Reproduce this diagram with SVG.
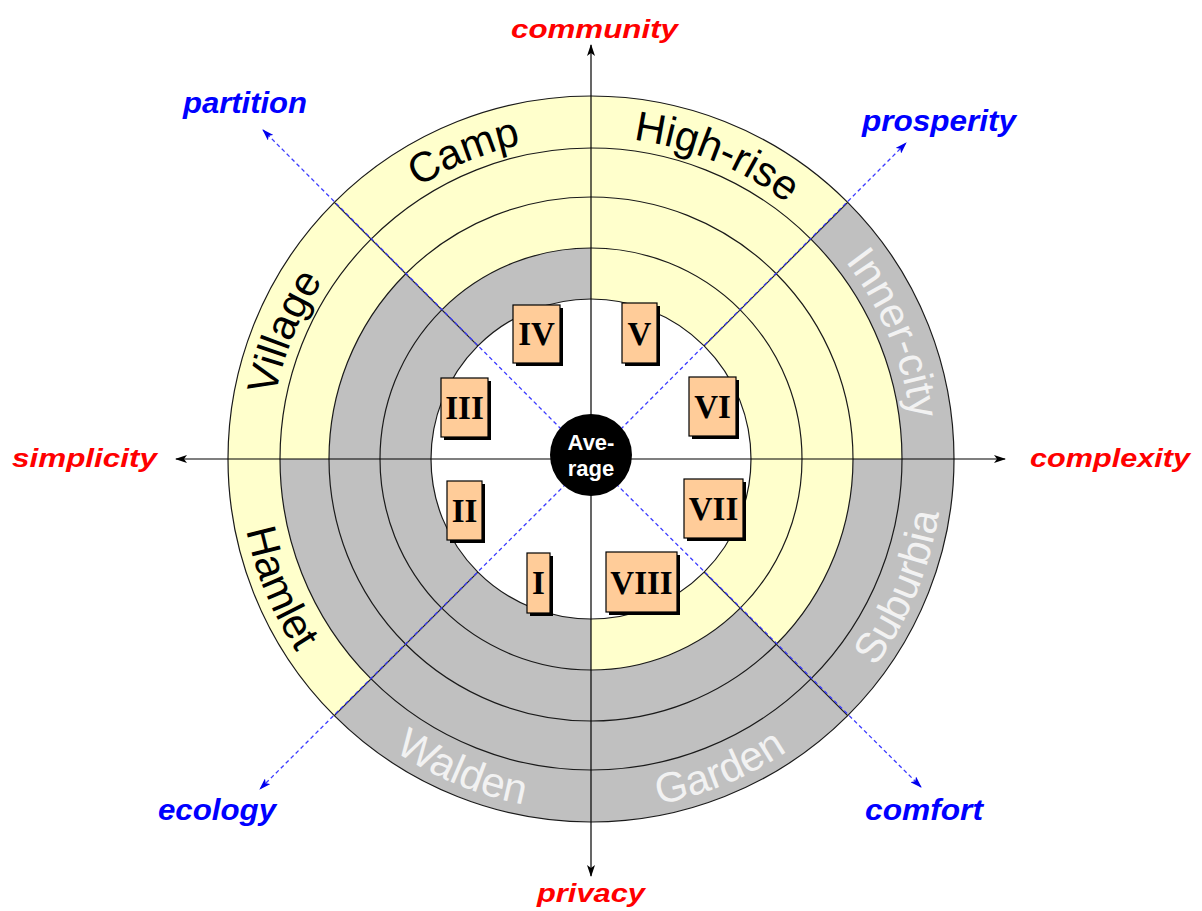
<svg xmlns="http://www.w3.org/2000/svg" width="1202" height="911" viewBox="0 0 1202 911">
  <style>
    .ring { fill: none; stroke: #1a1a1a; stroke-width: 1.2; }
    .yel { fill: #FFFFCC; stroke: none; }
    .seg { stroke: #1a1a1a; stroke-width: 1.2; }
    .axis { stroke: #000; stroke-width: 1.2; fill: none; }
    .dash { stroke: #3b3bff; stroke-width: 1.3; stroke-dasharray: 4 3; fill: none; }
    .band { font-family: "Liberation Sans", Arial, sans-serif; font-size: 42px; }
    .dark { fill: #000; }
    .light { fill: #f2f2f2; }
    .box { fill: #FFCC99; stroke: #000; stroke-width: 1.2; }
    .shadow { fill: #000; }
    .num { font-family: "Liberation Serif", "Times New Roman", serif; font-weight: bold; font-size: 33px; fill: #000; text-anchor: middle; }
    .red { font-family: "Liberation Sans", Arial, sans-serif; font-weight: bold; font-style: italic; font-size: 26px; fill: #FF0000; text-anchor: middle; }
    .blue { font-family: "Liberation Sans", Arial, sans-serif; font-weight: bold; font-style: italic; font-size: 29px; fill: #0000FF; text-anchor: middle; }
    .avg { font-family: "Liberation Sans", Arial, sans-serif; font-weight: bold; font-size: 22px; fill: #fff; text-anchor: middle; }
  </style>
  <defs>
    <marker id="arrowBlack" viewBox="0 0 12 8" refX="11" refY="4" markerWidth="12" markerHeight="8" markerUnits="userSpaceOnUse" orient="auto-start-reverse">
      <path d="M0,0 L12,4 L0,8 L3,4 Z" fill="#000"/>
    </marker>
    <marker id="arrowBlue" viewBox="0 0 12 8" refX="11" refY="4" markerWidth="12" markerHeight="8" markerUnits="userSpaceOnUse" orient="auto">
      <path d="M0,0 L12,4 L0,8 L3,4 Z" fill="#0000ee"/>
    </marker>
    <!-- baselines for the band names: clockwise arcs r=322, counter-clockwise arcs r=352 -->
    <path id="pCamp" d="M305.38,310.32 A322,322 0 0 1 687.83,151.90"/>
    <path id="pHigh" d="M494.17,151.90 A322,322 0 0 1 876.62,310.32"/>
    <path id="pVillage" d="M283.90,555.83 A322,322 0 0 1 442.32,173.38"/>
    <path id="pInner" d="M739.68,173.38 A322,322 0 0 1 898.10,555.83"/>
    <path id="pHamlet" d="M255.29,353.15 A352,352 0 0 0 428.46,771.23"/>
    <path id="pWalden" d="M278.77,621.54 A352,352 0 0 0 696.85,794.71"/>
    <path id="pGarden" d="M485.15,794.71 A352,352 0 0 0 903.23,621.54"/>
    <path id="pSuburbia" d="M753.54,771.23 A352,352 0 0 0 926.71,353.15"/>
  </defs>

  <rect x="0" y="0" width="1202" height="911" fill="#fff"/>

  <!-- ring bands: grey base, yellow annular sectors, white core -->
  <g id="bands">
    <circle cx="591" cy="459" r="363" fill="#C0C0C0"/>
    <path class="yel" d="M902,459 A311,311 0 0 0 810.91,239.09 L704.14,345.86 A160,160 0 0 1 751,459 Z"/>
    <path class="yel" d="M847.68,202.32 A363,363 0 0 0 591,96 L591,299 A160,160 0 0 1 704.14,345.86 Z"/>
    <path class="yel" d="M591,96 A363,363 0 0 0 334.32,202.32 L441.8,309.8 A211,211 0 0 1 591,248 Z"/>
    <path class="yel" d="M334.32,202.32 A363,363 0 0 0 228,459 L329,459 A262,262 0 0 1 405.74,273.74 Z"/>
    <path class="yel" d="M228,459 A363,363 0 0 0 334.32,715.68 L371.09,678.91 A311,311 0 0 1 280,459 Z"/>
    <path class="yel" d="M591,670 A211,211 0 0 0 740.2,608.2 L704.14,572.14 A160,160 0 0 1 591,619 Z"/>
    <path class="yel" d="M776.26,644.26 A262,262 0 0 0 853,459 L751,459 A160,160 0 0 1 704.14,572.14 Z"/>
    <circle cx="591" cy="459" r="160" fill="#fff"/>
    <circle class="ring" cx="591" cy="459" r="363"/>
    <circle class="ring" cx="591" cy="459" r="311"/>
    <circle class="ring" cx="591" cy="459" r="262"/>
    <circle class="ring" cx="591" cy="459" r="211"/>
    <circle class="ring" cx="591" cy="459" r="160"/>
    <line class="seg" x1="704.14" y1="345.86" x2="847.68" y2="202.32"/>
    <line class="seg" x1="477.86" y1="345.86" x2="334.32" y2="202.32"/>
    <line class="seg" x1="477.86" y1="572.14" x2="334.32" y2="715.68"/>
    <line class="seg" x1="704.14" y1="572.14" x2="847.68" y2="715.68"/>
  </g>

  <g id="band-labels" class="band">
    <text class="dark"><textPath href="#pCamp" startOffset="50%" text-anchor="middle">Camp</textPath></text>
    <text class="dark"><textPath href="#pHigh" startOffset="50%" text-anchor="middle">High-rise</textPath></text>
    <text class="dark"><textPath href="#pVillage" startOffset="50%" text-anchor="middle">Village</textPath></text>
    <text class="light"><textPath href="#pInner" startOffset="50%" text-anchor="middle">Inner-city</textPath></text>
    <text class="dark"><textPath href="#pHamlet" startOffset="50%" text-anchor="middle">Hamlet</textPath></text>
    <text class="light"><textPath href="#pWalden" startOffset="50%" text-anchor="middle">Walden</textPath></text>
    <text class="light"><textPath href="#pGarden" startOffset="50%" text-anchor="middle">Garden</textPath></text>
    <text class="light"><textPath href="#pSuburbia" startOffset="50%" text-anchor="middle">Suburbia</textPath></text>
  </g>

  <!-- axes and diagonal directions -->
  <g id="connectors">
    <line class="axis" x1="176" y1="459" x2="1005" y2="459" marker-start="url(#arrowBlack)" marker-end="url(#arrowBlack)"/>
    <line class="axis" x1="591" y1="45" x2="591" y2="876" marker-start="url(#arrowBlack)" marker-end="url(#arrowBlack)"/>
    <line class="dash" x1="591" y1="459" x2="263" y2="130" marker-end="url(#arrowBlue)"/>
    <line class="dash" x1="591" y1="459" x2="906" y2="143" marker-end="url(#arrowBlue)"/>
    <line class="dash" x1="591" y1="459" x2="921" y2="787" marker-end="url(#arrowBlue)"/>
    <line class="dash" x1="591" y1="459" x2="260" y2="789" marker-end="url(#arrowBlue)"/>
  </g>

  <g id="average">
    <circle cx="591" cy="455" r="41" fill="#000"/>
    <text class="avg" x="591" y="450">Ave-</text>
    <text class="avg" x="591" y="476">rage</text>
  </g>

  <g id="I"><rect class="shadow" x="530" y="556" width="23" height="60"/><rect class="box" x="527" y="553" width="23" height="60"/><text class="num" x="538.5" y="594">I</text></g>
  <g id="II"><rect class="shadow" x="450" y="484" width="35" height="59"/><rect class="box" x="447" y="481" width="35" height="59"/><text class="num" x="464.5" y="522">II</text></g>
  <g id="III"><rect class="shadow" x="444" y="381" width="47" height="59"/><rect class="box" x="441" y="378" width="47" height="59"/><text class="num" x="464.5" y="419">III</text></g>
  <g id="IV"><rect class="shadow" x="516" y="308" width="47" height="58"/><rect class="box" x="513" y="305" width="47" height="58"/><text class="num" x="536.5" y="345">IV</text></g>
  <g id="V"><rect class="shadow" x="625" y="306" width="35" height="60"/><rect class="box" x="622" y="303" width="35" height="60"/><text class="num" x="639.5" y="345">V</text></g>
  <g id="VI"><rect class="shadow" x="692" y="380" width="47" height="59"/><rect class="box" x="689" y="377" width="47" height="59"/><text class="num" x="712.5" y="418">VI</text></g>
  <g id="VII"><rect class="shadow" x="687" y="482" width="59" height="59"/><rect class="box" x="684" y="479" width="59" height="59"/><text class="num" x="713.5" y="520">VII</text></g>
  <g id="VIII"><rect class="shadow" x="609" y="555" width="71" height="60"/><rect class="box" x="606" y="552" width="71" height="60"/><text class="num" x="641.5" y="594">VIII</text></g>

  <g id="axis-labels">
    <text class="red" x="594.5" y="38" textLength="167" lengthAdjust="spacingAndGlyphs">community</text>
    <text class="red" x="591" y="902" textLength="108" lengthAdjust="spacingAndGlyphs">privacy</text>
    <text class="red" x="84.5" y="467" textLength="145" lengthAdjust="spacingAndGlyphs">simplicity</text>
    <text class="red" x="1110" y="467" textLength="160" lengthAdjust="spacingAndGlyphs">complexity</text>
    <text class="blue" x="245" y="113" textLength="124" lengthAdjust="spacingAndGlyphs">partition</text>
    <text class="blue" x="939" y="131" textLength="154" lengthAdjust="spacingAndGlyphs">prosperity</text>
    <text class="blue" x="217" y="820" textLength="118" lengthAdjust="spacingAndGlyphs">ecology</text>
    <text class="blue" x="924" y="820" textLength="118" lengthAdjust="spacingAndGlyphs">comfort</text>
  </g>
</svg>
